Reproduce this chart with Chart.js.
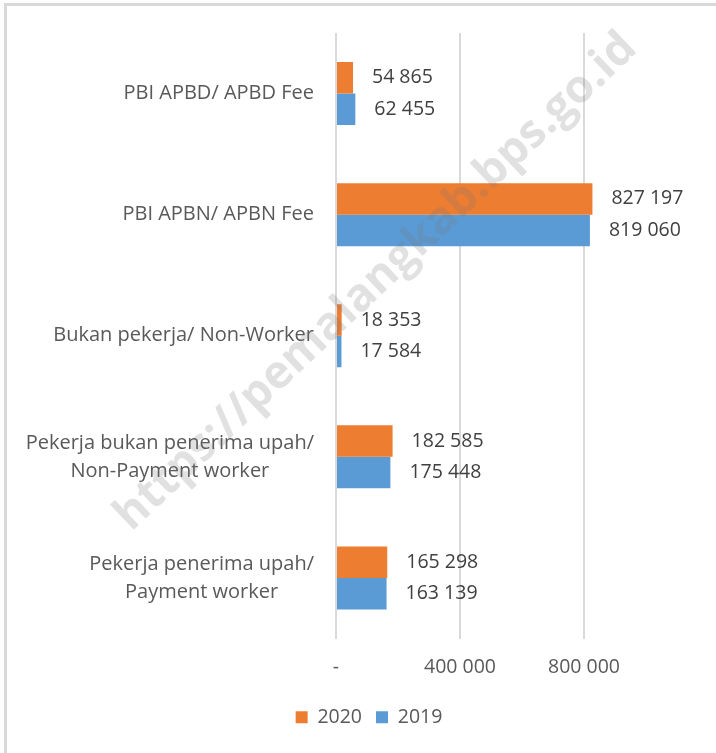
<!DOCTYPE html>
<html>
<head>
<meta charset="utf-8">
<script src="https://cdn.jsdelivr.net/npm/chart.js@4"></script>
<style>
  html, body { margin: 0; padding: 0; background: #fff; }
  #wrap { position: absolute; left: 0; top: 0; width: 716px; height: 753px; }
</style>
</head>
<body>
<div id="wrap"><canvas id="myChart" width="716" height="753"></canvas></div>
<script>
const categories = [
  ["PBI APBD/ APBD Fee"],
  ["PBI APBN/ APBN Fee"],
  ["Bukan pekerja/ Non-Worker"],
  ["Pekerja bukan penerima upah/", "Non-Payment worker"],
  ["Pekerja penerima upah/", "Payment worker"]
];
const values2020 = [54865, 827197, 18353, 182585, 165298];
const values2019 = [62455, 819060, 17584, 175448, 163139];
const xTicks = [0, 400000, 800000];

const FONT = "'Open Sans', 'Noto Sans', sans-serif";
const SIZE = 19.5;

function formatNum(v) {
  if (v === 0) return "-";
  return String(v).replace(/\B(?=(\d{3})+(?!\d))/g, " ");
}

const frame = {
  id: "frame",
  beforeDraw(chart) {
    const ctx = chart.ctx;
    ctx.save();
    ctx.fillStyle = "#d9d9d9";
    ctx.fillRect(4, 3, 712, 3);
    ctx.fillRect(4, 3, 3, 750);
    ctx.restore();
  }
};

const categoryLabels = {
  id: "categoryLabels",
  afterDraw(chart) {
    const ctx = chart.ctx;
    const yScale = chart.scales.y;
    const right = chart.chartArea.left - 22;
    ctx.save();
    ctx.font = "20px " + FONT;
    ctx.fillStyle = "#595959";
    ctx.textBaseline = "middle";
    ctx.textAlign = "center";
    categories.forEach((lines, i) => {
      const yc = yScale.getPixelForTick(i);
      const blockW = Math.max(...lines.map((l) => ctx.measureText(l).width));
      const lh = 28;
      const y0 = yc - ((lines.length - 1) * lh) / 2;
      lines.forEach((line, j) => {
        ctx.fillText(line, right - blockW / 2, y0 + j * lh);
      });
    });
    ctx.restore();
  }
};

const valueLabels = {
  id: "valueLabels",
  afterDatasetsDraw(chart) {
    const ctx = chart.ctx;
    ctx.save();
    ctx.font = SIZE + "px " + FONT;
    ctx.fillStyle = "#404040";
    ctx.textAlign = "left";
    ctx.textBaseline = "middle";
    chart.data.datasets.forEach((ds, di) => {
      chart.getDatasetMeta(di).data.forEach((bar, i) => {
        ctx.fillText(formatNum(ds.data[i]), bar.x + 19, bar.y);
      });
    });
    ctx.restore();
  }
};

const watermark = {
  id: "watermark",
  afterDraw(chart) {
    const ctx = chart.ctx;
    const text = "https://pemalangkab.bps.go.id";
    ctx.save();
    ctx.font = "bold 40px " + FONT;
    const w = ctx.measureText(text).width;
    const size = 40 * 700 / w;
    ctx.font = "bold " + size + "px " + FONT;
    ctx.translate(376, 282);
    ctx.rotate(-43.5 * Math.PI / 180);
    ctx.fillStyle = "rgba(120,120,120,0.22)";
    ctx.textAlign = "center";
    ctx.textBaseline = "middle";
    ctx.fillText(text, 0, 0);
    ctx.restore();
  }
};

const data = {
  labels: categories.map((c) => c.join(" ")),
  datasets: [
    {
      label: "2020",
      data: values2020,
      backgroundColor: "#ED7D31",
      barPercentage: 1,
      categoryPercentage: 0.52
    },
    {
      label: "2019",
      data: values2019,
      backgroundColor: "#5B9BD5",
      barPercentage: 1,
      categoryPercentage: 0.52
    }
  ]
};

const config = {
  type: "bar",
  data: data,
  options: {
    indexAxis: "y",
    responsive: false,
    animation: false,
    layout: { padding: { top: 33, right: 70, bottom: 16, left: 92 } },
    plugins: {
      legend: {
        position: "bottom",
        labels: {
          font: { family: FONT, size: SIZE },
          color: "#595959",
          boxWidth: 12,
          boxHeight: 12,
          padding: 14
        }
      },
      tooltip: { enabled: false }
    },
    scales: {
      x: {
        min: 0,
        max: 1000000,
        afterBuildTicks(scale) {
          scale.ticks = xTicks.map((v) => ({ value: v }));
        },
        afterFit(scale) {
          scale.height = 55;
        },
        ticks: {
          padding: 17,
          color: "#595959",
          font: { family: FONT, size: SIZE },
          callback: (v) => formatNum(v)
        },
        grid: { color: "#d9d9d9", lineWidth: 2, drawTicks: false },
        border: { display: false }
      },
      y: {
        afterFit(scale) {
          scale.width = 244;
        },
        ticks: { display: false },
        grid: { display: false },
        border: { display: false }
      }
    }
  },
  plugins: [frame, categoryLabels, valueLabels, watermark]
};

let myChart = new Chart(document.getElementById("myChart"), config);
</script>
</body>
</html>
